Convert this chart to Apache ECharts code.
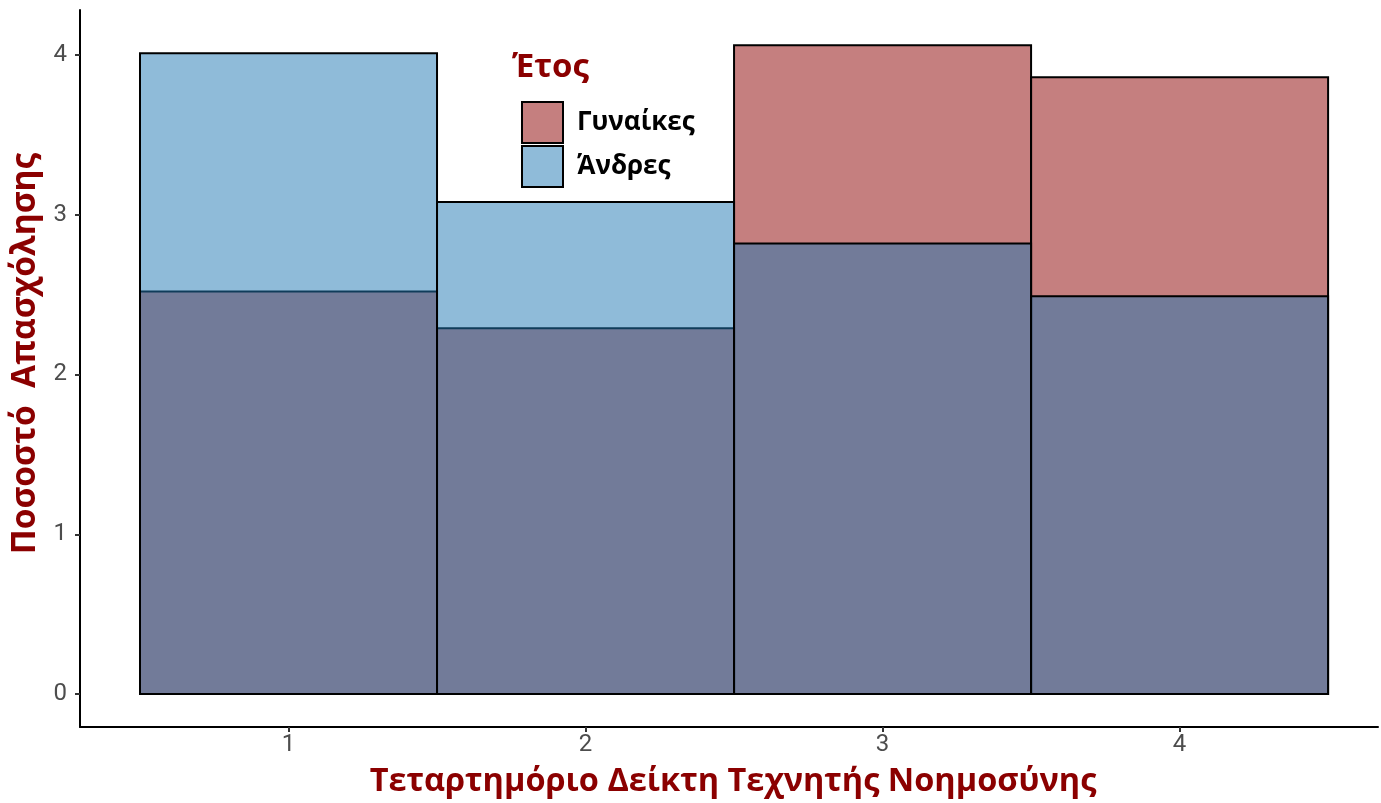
<!DOCTYPE html>
<html>
<head>
<meta charset="utf-8">
<script src="https://cdn.jsdelivr.net/npm/echarts@6/dist/echarts.min.js"></script>
<style>
    html, body { margin: 0; padding: 0; background: #fff; }
    #chart { width: 1381px; height: 803px; }
</style>
</head>
<body>
<div id="chart"></div>
<script>
    // quartiles of the AI index and employment share per group
    var quartiles = [1, 2, 3, 4];
    var women = [2.52, 2.29, 4.06, 3.86];
    var men = [4.01, 3.08, 2.82, 2.49];
    var yTicks = [0, 1, 2, 3, 4];

    var dom = document.getElementById('chart');
    var myChart = echarts.init(dom);

    // one full-width bar per quartile, drawn via axis coordinates
    function barItem(fill) {
        return function (params, api) {
            var x = api.value(0);
            var y = api.value(1);
            var p0 = api.coord([x - 0.5, y]);
            var p1 = api.coord([x + 0.5, 0]);
            return {
                type: 'rect',
                shape: { x: p0[0], y: p0[1], width: p1[0] - p0[0], height: p1[1] - p0[1] },
                style: { fill: fill, stroke: '#000', lineWidth: 2 }
            };
        };
    }

    var womenFill = 'rgba(139,0,0,0.5)';
    var menFill = 'rgba(31,119,180,0.5)';
    var boldFont = 'Open Sans';

    var option = {
        animation: false,
        title: {
            text: 'Έτος',
            left: 512,
            top: 51,
            padding: 0,
            textStyle: { fontFamily: boldFont, fontWeight: 'bold', fontSize: 33, color: '#8b0000' }
        },
        legend: {
            orient: 'vertical',
            left: 521,
            top: 101,
            padding: 0,
            itemWidth: 41,
            itemHeight: 41,
            itemGap: 1,
            icon: 'rect',
            textStyle: { fontFamily: boldFont, fontWeight: 'bold', fontSize: 26, color: '#000', padding: [0, 0, 0, 9] },
            data: ['Γυναίκες', 'Άνδρες']
        },
        grid: { left: 80, right: 3, top: 10, bottom: 75 },
        xAxis: {
            type: 'value',
            min: 0.298,
            max: 4.668,
            splitLine: { show: false },
            axisLine: { show: true, onZero: false, lineStyle: { color: '#000', width: 2 } },
            axisTick: { show: true, length: 5, customValues: quartiles, lineStyle: { color: '#333', width: 2 } },
            axisLabel: {
                customValues: quartiles,
                margin: 6,
                fontFamily: 'Roboto', fontSize: 24, color: '#4d4d4d'
            },
            name: 'Τεταρτημόριο Δείκτη Τεχνητής Νοημοσύνης',
            nameLocation: 'middle',
            nameGap: 38,
            nameTextStyle: { fontFamily: boldFont, fontWeight: 'bold', fontSize: 32.5, color: '#8b0000', padding: [0, 0, 0, 8] }
        },
        yAxis: {
            type: 'value',
            min: -0.206,
            max: 4.281,
            splitLine: { show: false },
            axisLine: { show: true, onZero: false, lineStyle: { color: '#000', width: 2 } },
            axisTick: { show: true, length: 5, customValues: yTicks, lineStyle: { color: '#333', width: 2 } },
            axisLabel: {
                customValues: yTicks,
                margin: 13,
                fontFamily: 'Roboto', fontSize: 24, color: '#4d4d4d'
            },
            name: 'Ποσοστό  Απασχόλησης',
            nameLocation: 'middle',
            nameGap: 38,
            nameTextStyle: { fontFamily: boldFont, fontWeight: 'bold', fontSize: 33.5, color: '#8b0000', padding: [0, 0, 0, 30] }
        },
        series: [
            {
                name: 'Γυναίκες',
                type: 'custom',
                renderItem: barItem(womenFill),
                itemStyle: { color: womenFill, borderColor: '#000', borderWidth: 2 },
                data: quartiles.map(function (q, i) { return [q, women[i]]; })
            },
            {
                name: 'Άνδρες',
                type: 'custom',
                renderItem: barItem(menFill),
                itemStyle: { color: menFill, borderColor: '#000', borderWidth: 2 },
                data: quartiles.map(function (q, i) { return [q, men[i]]; })
            }
        ]
    };

    if (option && typeof option === "object") {
        myChart.setOption(option, true);
    }
</script>
</body>
</html>
